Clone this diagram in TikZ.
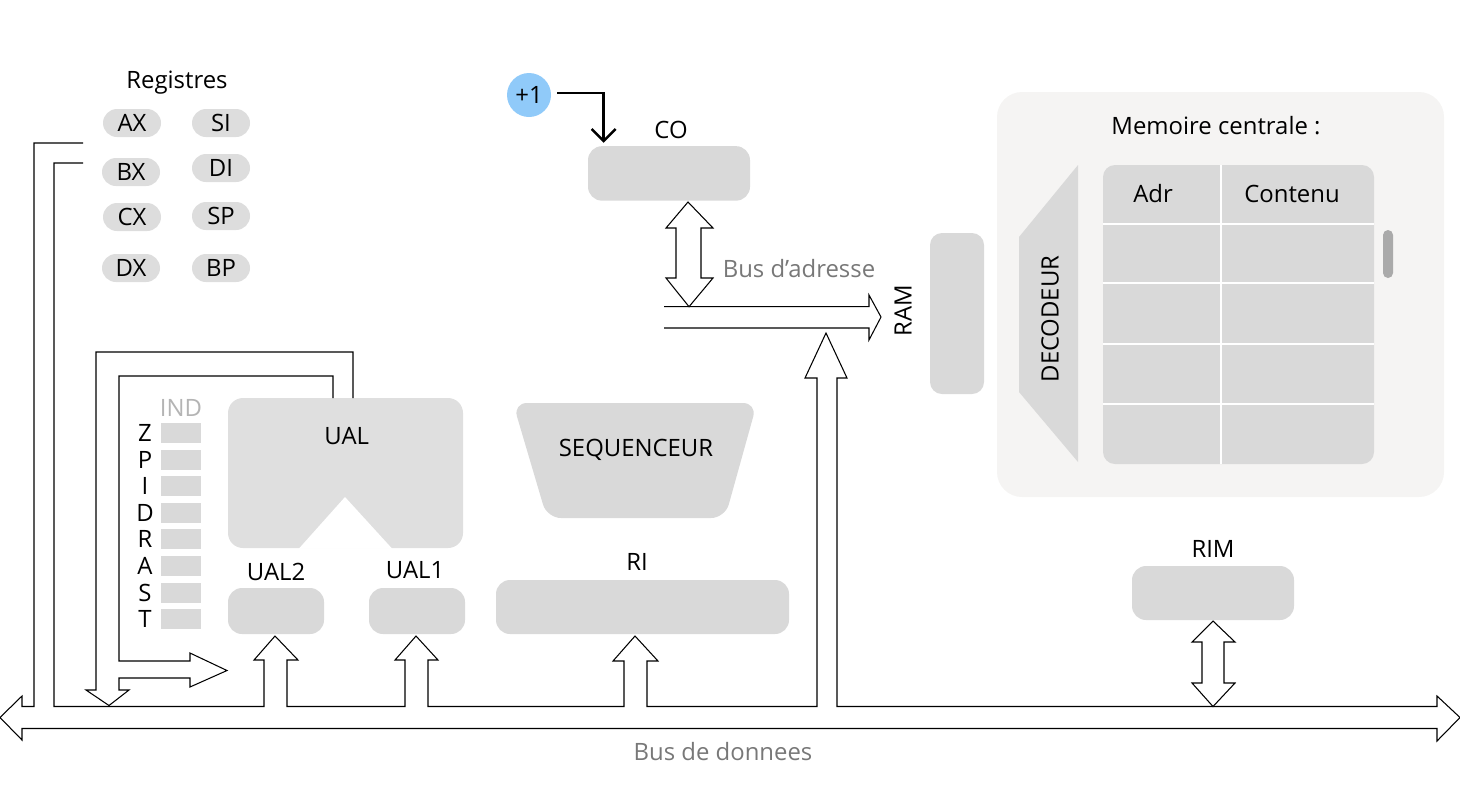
\documentclass[tikz,border=0pt]{standalone}
\usepackage{fontspec}
\setmainfont{Open Sans}
\usetikzlibrary{arrows.meta, calc}

\definecolor{boxgray}{RGB}{217,217,217}
\definecolor{ualgray}{RGB}{223,223,223}
\definecolor{pillgray}{RGB}{221,221,221}
\definecolor{memback}{RGB}{245,244,243}
\definecolor{scrollgray}{RGB}{170,170,170}
\definecolor{plusblue}{RGB}{144,202,249}
\definecolor{busgray}{RGB}{120,120,120}
\definecolor{indgray}{RGB}{180,180,180}

\begin{document}
\begin{tikzpicture}[x=0.2mm,y=-0.2mm,
    every node/.style={font=\fontsize{13.6}{16}\selectfont},
    box/.style={fill=boxgray, rounded corners=2.8mm, inner sep=0pt},
    pill/.style={fill=pillgray, rounded corners=2.8mm, minimum width=11.6mm, minimum height=5.6mm, inner sep=0pt},
    flag/.style={fill=boxgray, minimum width=8mm, minimum height=4mm, inner sep=0pt},
    bus/.style={line width=0.6pt},
    hint/.style={text=busgray}]
        \useasboundingbox (0,0) rectangle (1460,810);

        % memoire centrale
        \node[fill=memback, rounded corners=5mm, minimum width=89.4mm, minimum height=81mm] (mem) at (1220.5,294.5) {};
        \node (memlbl) at (1216,126) {Memoire centrale :};
        \node[box, rounded corners=2.4mm, minimum width=54.2mm, minimum height=59.8mm] (tab) at (1238.5,314.5) {};
        \foreach \y in {224,283,344,404}
            \draw[white, line width=0.8pt] (1103,\y) -- (1374,\y);
        \draw[white, line width=0.8pt] (1221,165) -- (1221,464);
        \node (adr) at (1153,194) {Adr};
        \node (cont) at (1292,194) {Contenu};
        \node[fill=scrollgray, rounded corners=1mm, minimum width=2mm, minimum height=9.6mm, inner sep=0pt] (scroll) at (1388,254) {};
        \fill[boxgray] (1078,165) -- (1019,237) -- (1019,392) -- (1078,462) -- cycle;
        \node[rotate=90] (dec) at (1050,319) {DECODEUR};

        % RAM
        \node[box, rounded corners=2.4mm, minimum width=10.8mm, minimum height=32.2mm] (ram) at (957,313.5) {};
        \node[rotate=90] (ramlbl) at (903,311) {RAM};

        % registres
        \node (reglbl) at (177,83) {Registres};
        \foreach \r/\x/\y in {AX/132/123, SI/221/123, BX/131/172, DI/221/168, CX/132/217, SP/221/216, DX/131/268, BP/221/268}
            \node[pill] (\r) at (\x,\y) {\r};

        % CO et +1
        \node[box, minimum width=32.4mm, minimum height=10.9mm] (co) at (669,173.4) {};
        \node (colbl) at (671,130) {CO};
        \node[circle, fill=plusblue, minimum size=8.8mm, inner sep=0pt] (plus) at (529,95) {+1};
        \draw[line width=1.4pt, -{Straight Barb[length=2.4mm,width=4.8mm]}] ($(plus.east)+(6,-2)$) -| ($(co.north west)+(16,-3)$);

        % bus d'adresse
        \draw[bus] (664,306.7) -- (869,306.7) -- (869,295) -- (881,317) -- (869,340) -- (869,328) -- (664,328);
        \draw[bus, fill=white] (688,202) -- (713,228) -- (701,228) -- (701,278) -- (713,278) -- (689,306.7) -- (666,278) -- (676,278) -- (676,228) -- (666,228) -- cycle;
        \node[hint] (adrbus) at (799,269) {Bus d’adresse};

        % sequenceur, RI, RIM
        \fill[boxgray, rounded corners=2.8mm] (513,403) -- (757,403) -- (725,518) -- (547,518) -- cycle;
        \node (seq) at (636,450) {SEQUENCEUR};
        \node[box, minimum width=58.6mm, minimum height=10.8mm] (ri) at (642.5,607) {};
        \node (rilbl) at (637,562) {RI};
        \node[box, minimum width=32.4mm, minimum height=10.8mm] (rim) at (1213,593) {};
        \node (rimlbl) at (1213,549) {RIM};

        % UAL
        \node[fill=ualgray, rounded corners=3mm, minimum width=47mm, minimum height=30mm, inner sep=0pt] (ual) at (345.5,473) {};
        \fill[white] (299,548.5) -- (345,497) -- (392,548.5) -- cycle;
        \node (uallbl) at (346.7,436) {UAL};
        \node[box, minimum width=19.2mm, minimum height=9.2mm] (ual2) at (276,611) {};
        \node (ual2lbl) at (276,572) {UAL2};
        \node[box, minimum width=19.2mm, minimum height=9.2mm] (ual1) at (417,611) {};
        \node (ual1lbl) at (415,570) {UAL1};

        % indicateurs
        \node[text=indgray] (ind) at (181,408) {IND};
        \foreach \f [count=\i from 0] in {Z,P,I,D,R,A,S,T} {
            \node[flag] (flag\f) at (181,{433+26.6*\i}) {};
            \node (let\f) at (145,{433+26.6*\i}) {\f};
        }

        % bus de donnees
        \draw[bus] (83,143) -- (34,143) -- (34,706.5) -- (22,706.5) -- (22,696) -- (0,717.5) -- (22,740) -- (22,728.5)
            -- (1437,728.5) -- (1437,741) -- (1460,717.5) -- (1437,696) -- (1437,706.5)
            -- (837,706.5) -- (837,378) -- (847,378) -- (826,333) -- (805,378) -- (817,378) -- (817,706.5)
            -- (647,706.5) -- (647,661) -- (658,661) -- (635,636) -- (613,661) -- (624,661) -- (624,706.5)
            -- (428,706.5) -- (428,660) -- (438,660) -- (416,636) -- (395,660) -- (405,660) -- (405,706.5)
            -- (287,706.5) -- (287,660) -- (298,660) -- (275,636) -- (254,660) -- (264,660) -- (264,706.5)
            -- (54,706.5) -- (54,163) -- (83,163);
        \draw[bus, fill=white] (1213,621) -- (1235,642) -- (1224,642) -- (1224,683) -- (1235,683) -- (1213,706.5)
            -- (1192,683) -- (1202,683) -- (1202,642) -- (1192,642) -- cycle;
        \draw[bus] (333,398) -- (333,376) -- (119,376) -- (119,661) -- (190,661) -- (190,653) -- (227,670.5) -- (190,687)
            -- (190,678) -- (119,678) -- (119,690) -- (129,690) -- (109,705.5) -- (86,690) -- (96,690) -- (96,352)
            -- (353,352) -- (353,398);
        \node[hint] (donbus) at (723,752) {Bus de donnees};
    \end{tikzpicture}
\end{document}
